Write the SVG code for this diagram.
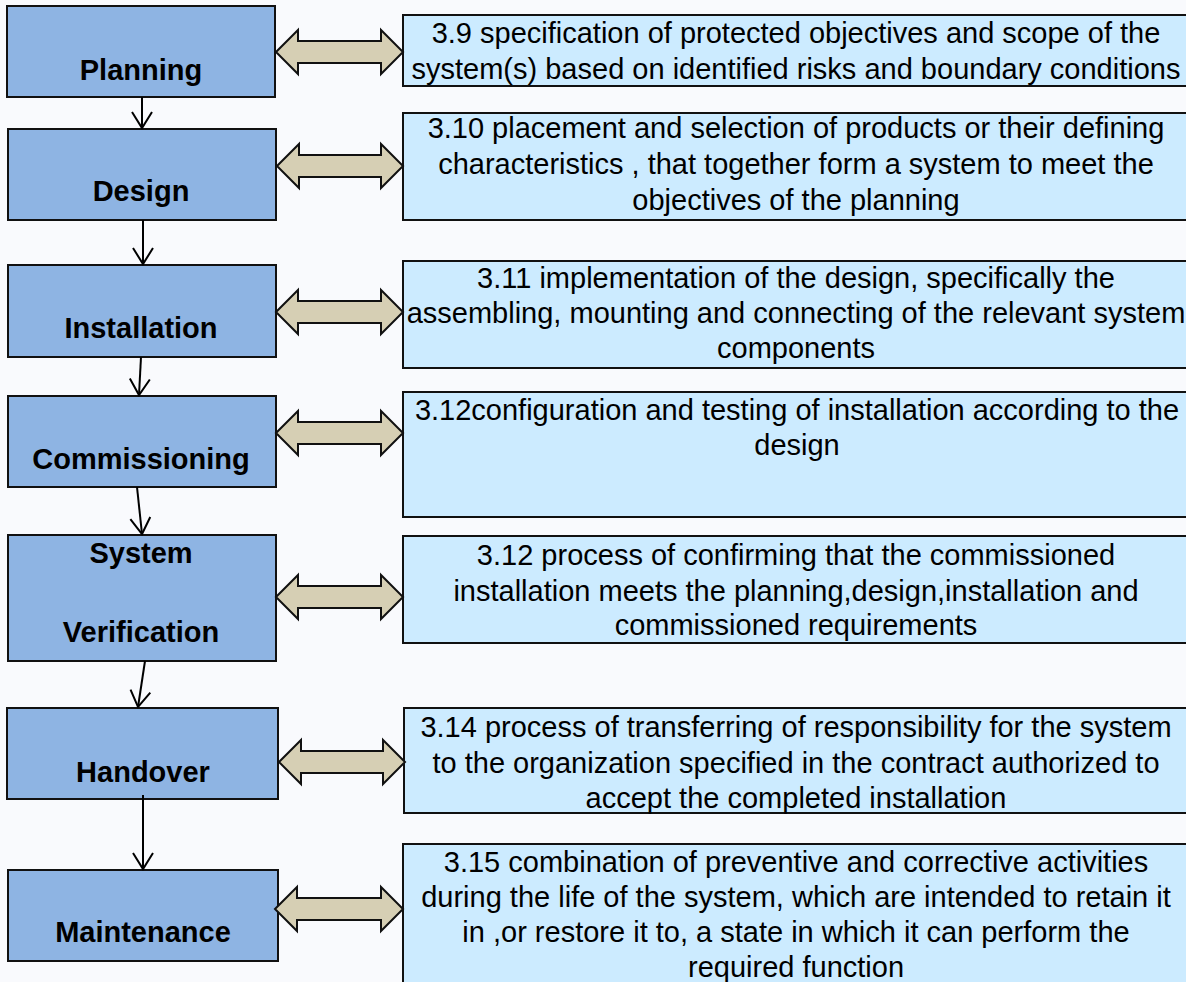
<svg xmlns="http://www.w3.org/2000/svg" width="1186" height="982" viewBox="0 0 1186 982">
<style>
.stage{fill:#8EB4E3;stroke:#111;stroke-width:2}
.def{fill:#CCEBFF;stroke:#111;stroke-width:2}
.lbl{font-family:"Liberation Sans",Arial,sans-serif;font-weight:bold;font-size:29px;fill:#000;text-anchor:middle}
.txt{font-family:"Liberation Sans",Arial,sans-serif;font-size:29px;fill:#000;text-anchor:middle}
.dbl{fill:#D6CFB4;stroke:#111;stroke-width:2;stroke-linejoin:miter}
.con{fill:none;stroke:#000;stroke-width:2}
</style>
<defs>
<marker id="open" markerUnits="userSpaceOnUse" markerWidth="24" markerHeight="24" viewBox="-18 -12 20 24" refX="0" refY="0" orient="auto">
<path d="M-16,-10 L0,0 L-16,10" fill="none" stroke="#000" stroke-width="2"/>
</marker>
</defs>
<rect width="1186" height="982" fill="#F9FAFD"/>

<g id="planning">
<rect class="stage" x="7" y="6" width="268" height="91"/>
<text class="lbl" x="141" y="80">Planning</text>
</g>
<g id="design">
<rect class="stage" x="8" y="129" width="268" height="91"/>
<text class="lbl" x="141" y="201">Design</text>
</g>
<g id="installation">
<rect class="stage" x="8" y="265" width="268" height="92"/>
<text class="lbl" x="141" y="338">Installation</text>
</g>
<g id="commissioning">
<rect class="stage" x="8" y="396" width="268" height="91"/>
<text class="lbl" x="141" y="469">Commissioning</text>
</g>
<g id="verification">
<rect class="stage" x="8" y="535" width="268" height="126"/>
<text class="lbl" x="141" y="563">System</text>
<text class="lbl" x="141" y="642">Verification</text>
</g>
<g id="handover">
<rect class="stage" x="7" y="708" width="271" height="91"/>
<text class="lbl" x="143" y="782">Handover</text>
</g>
<g id="maintenance">
<rect class="stage" x="8" y="870" width="270" height="91"/>
<text class="lbl" x="143" y="942">Maintenance</text>
</g>

<g id="def-planning">
<rect class="def" x="403" y="15" width="786" height="71"/>
<text class="txt" x="796" y="43">3.9 specification of protected objectives and scope of the</text>
<text class="txt" x="796" y="79">system(s) based on identified risks and boundary conditions</text>
</g>
<g id="def-design">
<rect class="def" x="403" y="113" width="786" height="107"/>
<text class="txt" x="796" y="138">3.10 placement and selection of products or their defining</text>
<text class="txt" x="796" y="174">characteristics , that together form a system to meet the</text>
<text class="txt" x="796" y="210">objectives of the planning</text>
</g>
<g id="def-installation">
<rect class="def" x="403" y="261" width="786" height="107"/>
<text class="txt" x="796" y="288">3.11 implementation of the design, specifically the</text>
<text class="txt" x="796" y="323">assembling, mounting and connecting of the relevant system</text>
<text class="txt" x="796" y="358">components</text>
</g>
<g id="def-commissioning">
<rect class="def" x="403" y="392" width="786" height="125"/>
<text class="txt" x="797" y="420">3.12configuration and testing of installation according to the</text>
<text class="txt" x="797" y="455">design</text>
</g>
<g id="def-verification">
<rect class="def" x="403" y="536" width="786" height="107"/>
<text class="txt" x="796" y="565">3.12 process of confirming that the commissioned</text>
<text class="txt" x="796" y="601">installation meets the planning,design,installation and</text>
<text class="txt" x="796" y="635">commissioned requirements</text>
</g>
<g id="def-handover">
<rect class="def" x="404" y="708" width="786" height="105"/>
<text class="txt" x="796" y="737">3.14 process of transferring of responsibility for the system</text>
<text class="txt" x="796" y="773">to the organization specified in the contract authorized to</text>
<text class="txt" x="796" y="808">accept the completed installation</text>
</g>
<g id="def-maintenance">
<rect class="def" x="403" y="844" width="786" height="150"/>
<text class="txt" x="796" y="872">3.15 combination of preventive and corrective activities</text>
<text class="txt" x="796" y="907">during the life of the system, which are intended to retain it</text>
<text class="txt" x="796" y="942">in ,or restore it to, a state in which it can perform the</text>
<text class="txt" x="796" y="977">required function</text>
</g>

<g id="connectors">
<path class="dbl" d="M276,52 L298,30 L298,41 L381,41 L381,30 L403,52 L381,74 L381,63 L298,63 L298,74 Z"/>
<path class="dbl" d="M277,166 L299,144 L299,155 L381,155 L381,144 L403,166 L381,188 L381,177 L299,177 L299,188 Z"/>
<path class="dbl" d="M276,312 L298,290 L298,301 L381,301 L381,290 L403,312 L381,334 L381,323 L298,323 L298,334 Z"/>
<path class="dbl" d="M276,433 L298,411 L298,422 L381,422 L381,411 L403,433 L381,455 L381,444 L298,444 L298,455 Z"/>
<path class="dbl" d="M276,597 L298,575 L298,586 L381,586 L381,575 L403,597 L381,619 L381,608 L298,608 L298,619 Z"/>
<path class="dbl" d="M279,762 L301,740 L301,751 L383,751 L383,740 L405,762 L383,784 L383,773 L301,773 L301,784 Z"/>
<path class="dbl" d="M275,909 L297,887 L297,898 L381,898 L381,887 L403,909 L381,931 L381,920 L297,920 L297,931 Z"/>
<line class="con" x1="142" y1="97" x2="142" y2="128" marker-end="url(#open)"/>
<line class="con" x1="143" y1="220" x2="143" y2="264" marker-end="url(#open)"/>
<line class="con" x1="141" y1="357" x2="139" y2="395" marker-end="url(#open)"/>
<line class="con" x1="137" y1="487" x2="142" y2="534" marker-end="url(#open)"/>
<line class="con" x1="145" y1="661" x2="138" y2="707" marker-end="url(#open)"/>
<line class="con" x1="143" y1="795" x2="143" y2="869" marker-end="url(#open)"/>
</g>
</svg>
